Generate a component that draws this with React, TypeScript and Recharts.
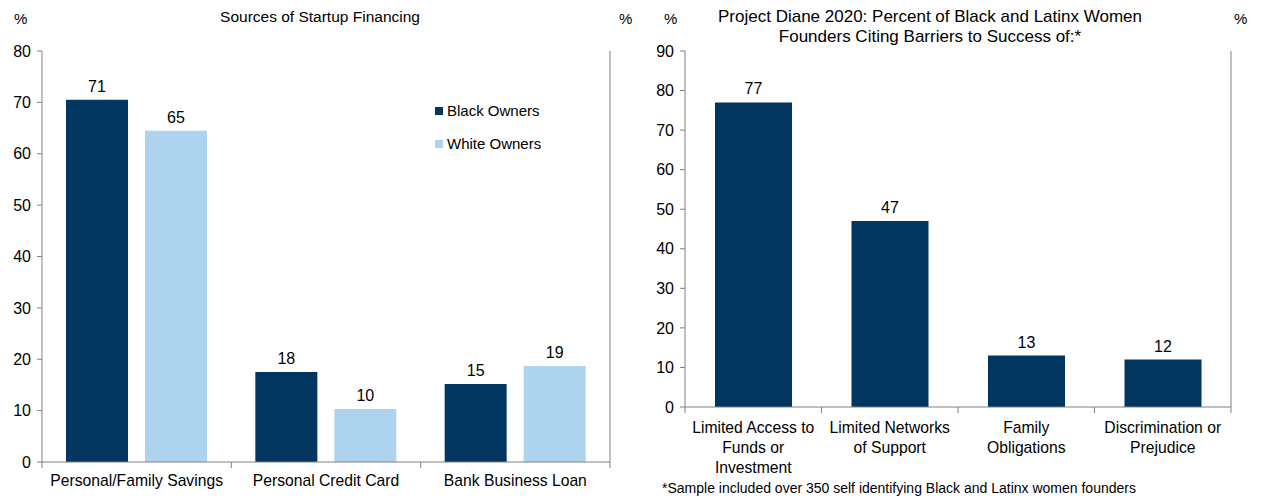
import { BarChart, Bar, XAxis, YAxis, LabelList, Legend } from "recharts"

// left panel: sources of startup financing
const SOURCES = ["Personal/Family Savings", "Personal Credit Card", "Bank Business Loan"]
const BLACK_OWNERS = [70.5, 17.5, 15.2]
const WHITE_OWNERS = [64.5, 10.3, 18.7]
const LEFT_TICKS = [0, 10, 20, 30, 40, 50, 60, 70, 80]

// right panel: Project Diane 2020 barriers
const BARRIERS = [
  "Limited Access to\nFunds or\nInvestment",
  "Limited Networks\nof Support",
  "Family\nObligations",
  "Discrimination or\nPrejudice",
]
const BARRIER_PCT = [77, 47, 13, 12]
const RIGHT_TICKS = [0, 10, 20, 30, 40, 50, 60, 70, 80, 90]

const NAVY = "#00365F"
const LIGHT = "#AED3EF"
const AXIS = "#808080"
const FONT = "'Liberation Sans', Arial, sans-serif"

const financing = SOURCES.map((name, i) => ({ name, black: BLACK_OWNERS[i], white: WHITE_OWNERS[i] }))
const barriers = BARRIERS.map((name, i) => ({ name, pct: BARRIER_PCT[i] }))

const CategoryTick = (props: any) => {
  const { x, y, payload, index, count, baseline } = props
  const half = payload?.offset ?? 0
  const lines = String(payload.value).split("\n")
  return (
    <g>
      <line x1={x - half} x2={x - half} y1={y} y2={y + 6} stroke={AXIS} />
      {index === count - 1 && <line x1={x + half} x2={x + half} y1={y} y2={y + 6} stroke={AXIS} />}
      <text x={x} y={y + baseline} textAnchor="middle" fontSize={15.7} fill="#000" fontFamily={FONT}>
        {lines.map((l, i) => (
          <tspan key={i} x={x} dy={i === 0 ? 0 : 20}>
            {l}
          </tspan>
        ))}
      </text>
    </g>
  )
}

const OwnersLegend = ({ payload }: { payload?: Array<{ value: string; color: string }> }) => (
  <div style={{ fontFamily: FONT, fontSize: 15, color: "#000" }}>
    {(payload || []).map((item) => (
      <div key={item.value} style={{ display: "flex", alignItems: "center", height: 33 }}>
        <span style={{ width: 8, height: 8, background: item.color, marginRight: 4 }} />
        {item.value}
      </div>
    ))}
  </div>
)

const tickStyle = { fontSize: 16, fill: "#000", fontFamily: FONT }
const labelStyle = { fontSize: 16, fill: "#000", fontFamily: FONT }
const abs = (left: number, top: number, extra: object = {}) => ({
  position: "absolute" as const,
  left,
  top,
  fontFamily: FONT,
  color: "#000",
  ...extra,
})

export default function App() {
  return (
    <div style={{ position: "absolute", left: 0, top: 0, width: 1271, height: 500, background: "#fff" }}>
      <div style={abs(14, 10, { fontSize: 15 })}>%</div>
      <div style={abs(619, 10, { fontSize: 15 })}>%</div>
      <div style={abs(0, 8, { width: 640, textAlign: "center", fontSize: 15.5 })}>Sources of Startup Financing</div>

      <div style={abs(664, 10, { fontSize: 15 })}>%</div>
      <div style={abs(1234, 10, { fontSize: 15 })}>%</div>
      <div style={abs(640, 7, { width: 580, textAlign: "center", fontSize: 17, lineHeight: "20px" })}>
        Project Diane 2020: Percent of Black and Latinx Women
        <br />
        Founders Citing Barriers to Success of:*
      </div>
      <div style={abs(662, 480, { fontSize: 14 })}>
        *Sample included over 350 self identifying Black and Latinx women founders
      </div>

      <div style={{ position: "absolute", left: 0, top: 0 }}>
        <BarChart
          width={640}
          height={500}
          data={financing}
          margin={{ top: 51, right: 0, bottom: 0, left: 0 }}
          barCategoryGap={24}
          barGap={17}
        >
          <XAxis
            dataKey="name"
            height={38}
            tickSize={0}
            tickMargin={0}
            axisLine={{ stroke: AXIS }}
            tickLine={false}
            interval={0}
            tick={(p: any) => <CategoryTick {...p} count={SOURCES.length} baseline={24} />}
          />
          <YAxis
            yAxisId="left"
            width={42}
            domain={[0, 80]}
            ticks={LEFT_TICKS}
            tick={tickStyle}
            tickSize={5}
            tickMargin={6}
            axisLine={{ stroke: AXIS }}
            tickLine={{ stroke: AXIS }}
          />
          <YAxis
            yAxisId="right"
            orientation="right"
            width={30}
            domain={[0, 80]}
            ticks={LEFT_TICKS}
            tick={tickStyle}
            tickSize={5}
            tickMargin={4}
            axisLine={{ stroke: AXIS }}
            tickLine={{ stroke: AXIS }}
          />
          <Legend
            layout="vertical"
            align="center"
            verticalAlign="middle"
            content={<OwnersLegend />}
            wrapperStyle={{ left: 435, top: 94, width: "auto" }}
          />
          <Bar yAxisId="left" dataKey="black" name="Black Owners" fill={NAVY} isAnimationActive={false}>
            <LabelList
              dataKey="black"
              position="top"
              offset={8}
              formatter={(v: any) => Math.round(Number(v))}
              style={labelStyle}
            />
          </Bar>
          <Bar yAxisId="left" dataKey="white" name="White Owners" fill={LIGHT} isAnimationActive={false}>
            <LabelList
              dataKey="white"
              position="top"
              offset={8}
              formatter={(v: any) => Math.round(Number(v))}
              style={labelStyle}
            />
          </Bar>
        </BarChart>
      </div>

      <div style={{ position: "absolute", left: 640, top: 0 }}>
        <BarChart
          width={631}
          height={500}
          data={barriers}
          margin={{ top: 51, right: 0, bottom: 0, left: 0 }}
          barCategoryGap={30}
        >
          <XAxis
            dataKey="name"
            height={93}
            tickSize={0}
            tickMargin={0}
            axisLine={{ stroke: AXIS }}
            tickLine={false}
            interval={0}
            tick={(p: any) => <CategoryTick {...p} count={BARRIERS.length} baseline={26} />}
          />
          <YAxis
            yAxisId="left"
            width={45}
            domain={[0, 90]}
            ticks={RIGHT_TICKS}
            tick={tickStyle}
            tickSize={5}
            tickMargin={6}
            axisLine={{ stroke: AXIS }}
            tickLine={{ stroke: AXIS }}
          />
          <YAxis
            yAxisId="right"
            orientation="right"
            width={40}
            domain={[0, 90]}
            ticks={RIGHT_TICKS}
            tick={tickStyle}
            tickSize={5}
            tickMargin={4}
            axisLine={{ stroke: AXIS }}
            tickLine={{ stroke: AXIS }}
          />
          <Bar yAxisId="left" dataKey="pct" fill={NAVY} isAnimationActive={false}>
            <LabelList dataKey="pct" position="top" offset={8} style={labelStyle} />
          </Bar>
        </BarChart>
      </div>
    </div>
  )
}
